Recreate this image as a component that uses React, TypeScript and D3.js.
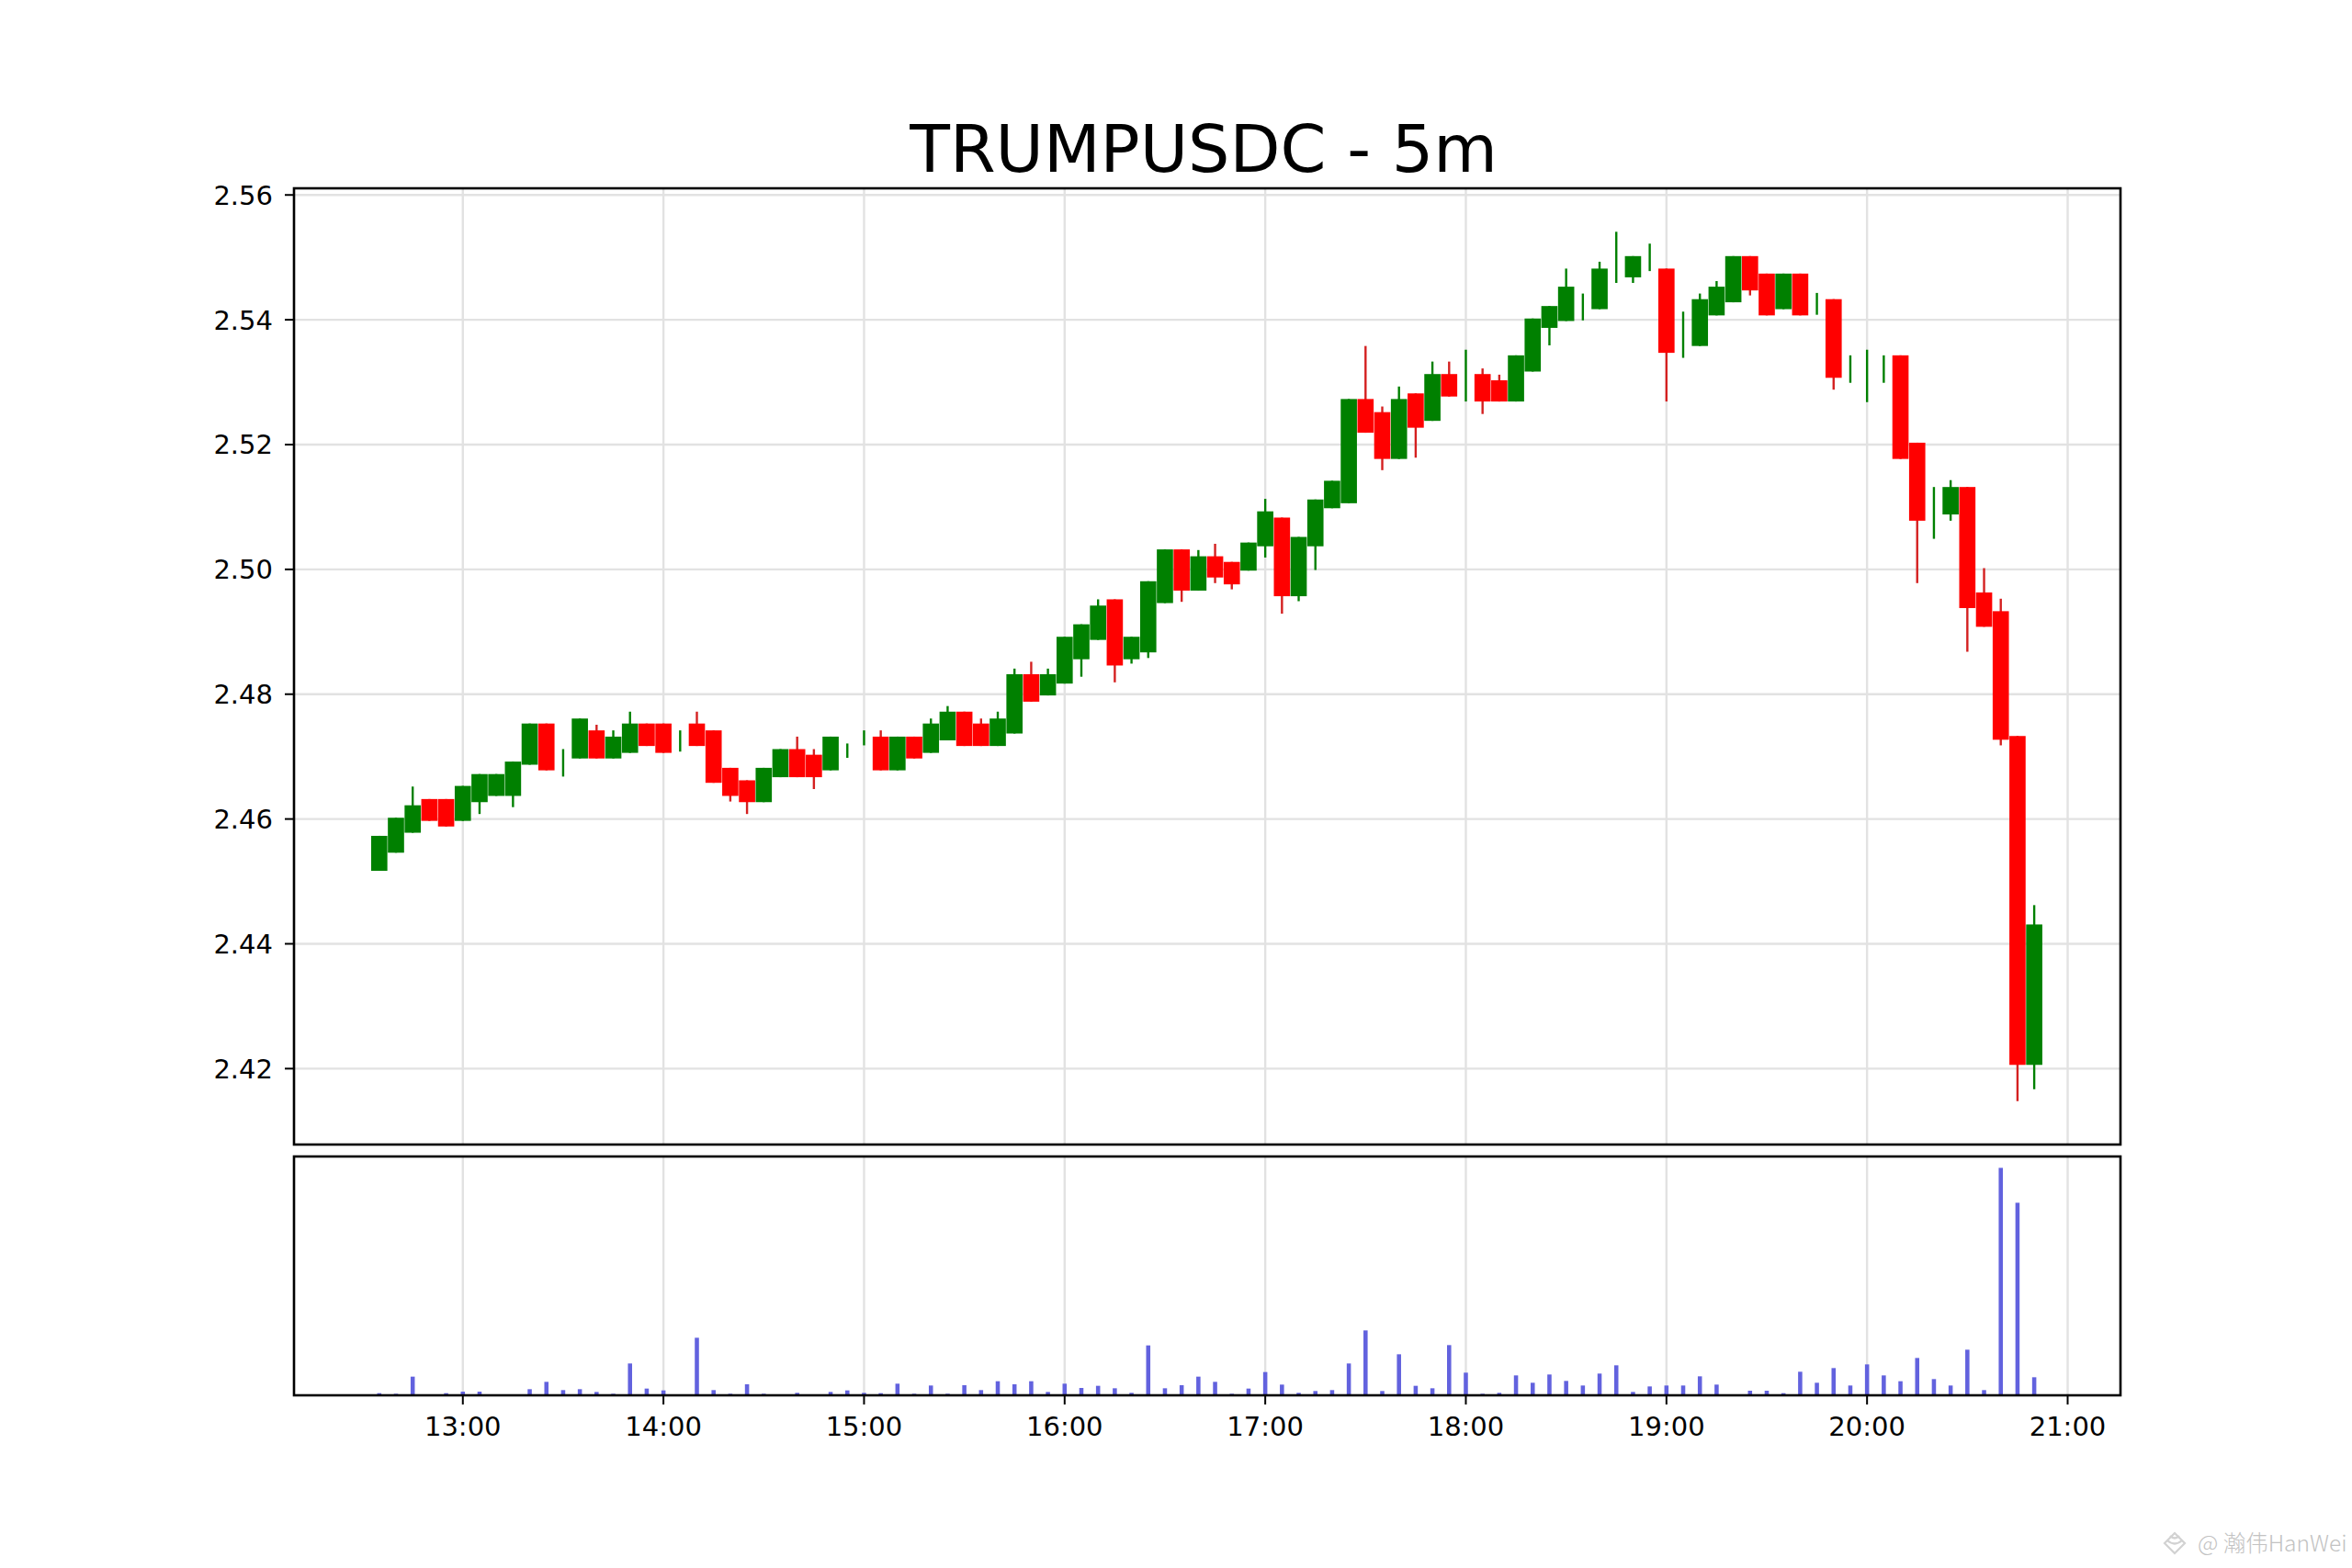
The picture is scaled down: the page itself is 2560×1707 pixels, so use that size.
import * as d3 from 'd3';

// 5-minute candles, TRUMPUSDC
const times = [
  '12:35', '12:40', '12:45', '12:50', '12:55',
  '13:00', '13:05', '13:10', '13:15', '13:20', '13:25', '13:30', '13:35', '13:40', '13:45', '13:50', '13:55',
  '14:00', '14:05', '14:10', '14:15', '14:20', '14:25', '14:30', '14:35', '14:40', '14:45', '14:50', '14:55',
  '15:00', '15:05', '15:10', '15:15', '15:20', '15:25', '15:30', '15:35', '15:40', '15:45', '15:50', '15:55',
  '16:00', '16:05', '16:10', '16:15', '16:20', '16:25', '16:30', '16:35', '16:40', '16:45', '16:50', '16:55',
  '17:00', '17:05', '17:10', '17:15', '17:20', '17:25', '17:30', '17:35', '17:40', '17:45', '17:50', '17:55',
  '18:00', '18:05', '18:10', '18:15', '18:20', '18:25', '18:30', '18:35', '18:40', '18:45', '18:50', '18:55',
  '19:00', '19:05', '19:10', '19:15', '19:20', '19:25', '19:30', '19:35', '19:40', '19:45', '19:50', '19:55',
  '20:00', '20:05', '20:10', '20:15', '20:20', '20:25', '20:30', '20:35', '20:40', '20:45', '20:50',
];

const opens = [
  2.4517, 2.4546, 2.4578, 2.4632, 2.4632,
  2.4597, 2.4627, 2.4637, 2.4637, 2.4687, 2.4753, 2.4695, 2.4697, 2.4742, 2.4697, 2.4706, 2.4753,
  2.4753, 2.4720, 2.4753, 2.4742, 2.4682, 2.4662, 2.4627, 2.4667, 2.4712, 2.4703, 2.4678, 2.4708,
  2.4728, 2.4732, 2.4678, 2.4732, 2.4706, 2.4726, 2.4772, 2.4753, 2.4717, 2.4737, 2.4832, 2.4798,
  2.4817, 2.4856, 2.4887, 2.4952, 2.4856, 2.4867, 2.4946, 2.5032, 2.4966, 2.5021, 2.5012, 2.4998,
  2.5037, 2.5083, 2.4957, 2.5037, 2.5098, 2.5106, 2.5273, 2.5252, 2.5177, 2.5282, 2.5238, 2.5313,
  2.5300, 2.5313, 2.5303, 2.5269, 2.5317, 2.5387, 2.5398, 2.5420, 2.5417, 2.5490, 2.5468, 2.5500,
  2.5482, 2.5376, 2.5358, 2.5407, 2.5428, 2.5502, 2.5474, 2.5417, 2.5474, 2.5425, 2.5433, 2.5320,
  2.5310, 2.5320, 2.5343, 2.5203, 2.5090, 2.5088, 2.5132, 2.4963, 2.4933, 2.4733, 2.4206,
];

const highs = [
  2.4573, 2.4602, 2.4652, 2.4632, 2.4632,
  2.4653, 2.4672, 2.4672, 2.4692, 2.4753, 2.4753, 2.4712, 2.4761, 2.4751, 2.4742, 2.4772, 2.4753,
  2.4753, 2.4742, 2.4772, 2.4742, 2.4682, 2.4662, 2.4682, 2.4712, 2.4732, 2.4712, 2.4732, 2.4721,
  2.4742, 2.4742, 2.4732, 2.4732, 2.4761, 2.4781, 2.4772, 2.4761, 2.4772, 2.4841, 2.4852, 2.4841,
  2.4892, 2.4912, 2.4952, 2.4952, 2.4892, 2.4981, 2.5032, 2.5032, 2.5031, 2.5041, 2.5012, 2.5043,
  2.5113, 2.5083, 2.5052, 2.5112, 2.5142, 2.5273, 2.5358, 2.5261, 2.5293, 2.5282, 2.5333, 2.5333,
  2.5352, 2.5322, 2.5312, 2.5343, 2.5402, 2.5422, 2.5482, 2.5442, 2.5493, 2.5541, 2.5502, 2.5522,
  2.5482, 2.5413, 2.5442, 2.5462, 2.5502, 2.5502, 2.5474, 2.5474, 2.5474, 2.5443, 2.5433, 2.5343,
  2.5352, 2.5343, 2.5343, 2.5203, 2.5132, 2.5143, 2.5132, 2.5002, 2.4953, 2.4733, 2.4462,
];

const lows = [
  2.4517, 2.4546, 2.4578, 2.4597, 2.4588,
  2.4597, 2.4608, 2.4637, 2.4619, 2.4687, 2.4678, 2.4668, 2.4697, 2.4697, 2.4697, 2.4706, 2.4717,
  2.4706, 2.4708, 2.4717, 2.4658, 2.4628, 2.4608, 2.4627, 2.4667, 2.4667, 2.4648, 2.4678, 2.4698,
  2.4718, 2.4678, 2.4678, 2.4697, 2.4706, 2.4726, 2.4717, 2.4717, 2.4717, 2.4737, 2.4788, 2.4798,
  2.4817, 2.4828, 2.4887, 2.4819, 2.4849, 2.4858, 2.4946, 2.4948, 2.4966, 2.4978, 2.4968, 2.4998,
  2.5019, 2.4929, 2.4949, 2.4999, 2.5098, 2.5106, 2.5219, 2.5159, 2.5177, 2.5179, 2.5238, 2.5277,
  2.5269, 2.5249, 2.5269, 2.5269, 2.5317, 2.5359, 2.5398, 2.5399, 2.5417, 2.5459, 2.5459, 2.5478,
  2.5269, 2.5339, 2.5358, 2.5407, 2.5428, 2.5439, 2.5407, 2.5417, 2.5407, 2.5408, 2.5288, 2.5299,
  2.5268, 2.5299, 2.5177, 2.4978, 2.5049, 2.5078, 2.4868, 2.4908, 2.4718, 2.4148, 2.4167,
];

// dojis have close == open (drawn as a bare wick)
const closes = [
  2.4573, 2.4602, 2.4622, 2.4597, 2.4588,
  2.4653, 2.4672, 2.4672, 2.4692, 2.4753, 2.4678, 2.4695, 2.4761, 2.4697, 2.4732, 2.4753, 2.4717,
  2.4706, 2.4720, 2.4717, 2.4658, 2.4637, 2.4627, 2.4682, 2.4712, 2.4667, 2.4667, 2.4732, 2.4708,
  2.4728, 2.4678, 2.4732, 2.4697, 2.4753, 2.4772, 2.4717, 2.4717, 2.4761, 2.4832, 2.4788, 2.4832,
  2.4892, 2.4912, 2.4942, 2.4846, 2.4892, 2.4981, 2.5032, 2.4966, 2.5021, 2.4987, 2.4976, 2.5043,
  2.5093, 2.4957, 2.5052, 2.5112, 2.5142, 2.5273, 2.5219, 2.5177, 2.5273, 2.5227, 2.5313, 2.5277,
  2.5300, 2.5269, 2.5269, 2.5343, 2.5402, 2.5422, 2.5453, 2.5420, 2.5482, 2.5490, 2.5502, 2.5500,
  2.5347, 2.5376, 2.5433, 2.5453, 2.5502, 2.5447, 2.5407, 2.5474, 2.5407, 2.5425, 2.5307, 2.5320,
  2.5310, 2.5320, 2.5177, 2.5078, 2.5090, 2.5132, 2.4938, 2.4908, 2.4727, 2.4206, 2.4431,
];

// relative traded volume per candle
const volumes = [
  7, 5, 61, 2, 7,
  12, 12, 2, 1, 20, 44, 17, 20, 11, 5, 104, 22,
  16, 2, 188, 17, 5, 36, 5, 1, 8, 2, 11, 16,
  8, 7, 38, 5, 32, 5, 33, 17, 46, 36, 46, 11,
  38, 24, 31, 23, 8, 163, 23, 33, 61, 44, 5, 22,
  76, 35, 8, 14, 17, 104, 212, 14, 134, 31, 23, 164,
  74, 5, 8, 65, 41, 68, 47, 32, 71, 98, 11, 29,
  32, 32, 62, 35, 1, 15, 15, 7, 77, 41, 89, 32,
  101, 65, 46, 122, 53, 32, 149, 17, 743, 629, 59,
];

const hourTicks = ['13:00', '14:00', '15:00', '16:00', '17:00', '18:00', '19:00', '20:00', '21:00'];
const priceTicks = [2.42, 2.44, 2.46, 2.48, 2.50, 2.52, 2.54, 2.56];

const TITLE = 'TRUMPUSDC - 5m';
const WATERMARK = '@ 瀚伟HanWei';

const W = 2560;
const H = 1707;
const FONT = '"DejaVu Sans", sans-serif';
const UP = '#008000';
const DOWN = '#ff0000';
const DOWN_WICK = '#d42020';
const VOL = '#6262de';
const GRID = '#e2e2e2';

const main = { left: 320, right: 2308, top: 205, bottom: 1246 };
const volBox = { top: 1259, bottom: 1519 };

const toMin = (t: string) => {
  const [h, m] = t.split(':').map(Number);
  return h * 60 + m;
};

export default function App() {
  const mins = times.map(toMin);

  const x = d3.scaleLinear().domain([729.5, 1275.8]).range([main.left, main.right]);

  const lo = d3.min(lows) as number;
  const hi = d3.max(highs) as number;
  const pad = (hi - lo) * 0.05;
  const y = d3.scaleLinear().domain([lo - pad, hi + pad]).range([main.bottom, main.top]);

  const vmax = d3.max(volumes) as number;
  const yv = d3.scaleLinear().domain([0, vmax * 1.05]).range([volBox.bottom, volBox.top]);

  const bodyW = x(4.85) - x(0);
  const volW = x(1.25) - x(0);

  return (
    <svg
      width={W}
      height={H}
      viewBox={`0 0 ${W} ${H}`}
      style={{ position: 'absolute', left: 0, top: 0, background: '#fff' }}
      fontFamily={FONT}
    >
      <rect x={0} y={0} width={W} height={H} fill="#fff" />

      <text x={(main.left + main.right) / 2 - 4} y={187} textAnchor="middle" fontSize={71.5} fill="#000">
        {TITLE}
      </text>

      {/* grid */}
      <g stroke={GRID} strokeWidth={2.4}>
        {priceTicks.map(p => (
          <line key={'hg' + p} x1={main.left} x2={main.right} y1={y(p)} y2={y(p)} />
        ))}
        {hourTicks.map(t => (
          <line key={'vg' + t} x1={x(toMin(t))} x2={x(toMin(t))} y1={main.top} y2={main.bottom} />
        ))}
        {hourTicks.map(t => (
          <line key={'vv' + t} x1={x(toMin(t))} x2={x(toMin(t))} y1={volBox.top} y2={volBox.bottom} />
        ))}
      </g>

      {/* candles */}
      <g>
        {mins.map((m, i) => {
          const up = closes[i] >= opens[i];
          const top = y(Math.max(opens[i], closes[i]));
          const bot = y(Math.min(opens[i], closes[i]));
          return (
            <g key={times[i]}>
              <line
                x1={x(m)}
                x2={x(m)}
                y1={y(highs[i])}
                y2={y(lows[i])}
                stroke={up ? UP : DOWN_WICK}
                strokeWidth={2.4}
              />
              {bot - top > 0.5 && (
                <rect
                  x={x(m) - bodyW / 2}
                  y={top}
                  width={bodyW}
                  height={bot - top}
                  fill={up ? UP : DOWN}
                />
              )}
            </g>
          );
        })}
      </g>

      {/* volume bars */}
      <g fill={VOL}>
        {mins.map((m, i) => (
          <rect
            key={'v' + times[i]}
            x={x(m) - volW / 2}
            y={yv(volumes[i])}
            width={volW}
            height={volBox.bottom - yv(volumes[i])}
          />
        ))}
      </g>

      {/* frames */}
      <rect
        x={main.left}
        y={main.top}
        width={main.right - main.left}
        height={main.bottom - main.top}
        fill="none"
        stroke="#000"
        strokeWidth={2.6}
      />
      <rect
        x={main.left}
        y={volBox.top}
        width={main.right - main.left}
        height={volBox.bottom - volBox.top}
        fill="none"
        stroke="#000"
        strokeWidth={2.6}
      />

      {/* y axis */}
      <g fontSize={29} fill="#000">
        {priceTicks.map(p => (
          <g key={'yt' + p}>
            <line x1={main.left - 10} x2={main.left} y1={y(p)} y2={y(p)} stroke="#000" strokeWidth={2} />
            <text x={main.left - 23} y={y(p)} dy="0.36em" textAnchor="end">
              {d3.format('.2f')(p)}
            </text>
          </g>
        ))}
      </g>

      {/* x axis */}
      <g fontSize={29} fill="#000">
        {hourTicks.map(t => (
          <g key={'xt' + t}>
            <line
              x1={x(toMin(t))}
              x2={x(toMin(t))}
              y1={volBox.bottom}
              y2={volBox.bottom + 10}
              stroke="#000"
              strokeWidth={2}
            />
            <text x={x(toMin(t))} y={1563} textAnchor="middle">
              {t}
            </text>
          </g>
        ))}
      </g>

      {/* watermark */}
      <g>
        <path
          d="M2356,1680 L2367,1669 L2378,1680 L2367,1691 Z M2359,1677 Q2367,1684 2375,1677 M2362,1672 Q2367,1677 2372,1672"
          fill="none"
          stroke="#d2d2d2"
          strokeWidth={2.2}
        />
        <text
          x={2392}
          y={1689}
          fontSize={24.5}
          fill="#c2c2c2"
          fontFamily='"Noto Sans CJK SC", "Noto Sans", sans-serif'
          fontWeight={300}
        >
          {WATERMARK}
        </text>
      </g>
    </svg>
  );
}
